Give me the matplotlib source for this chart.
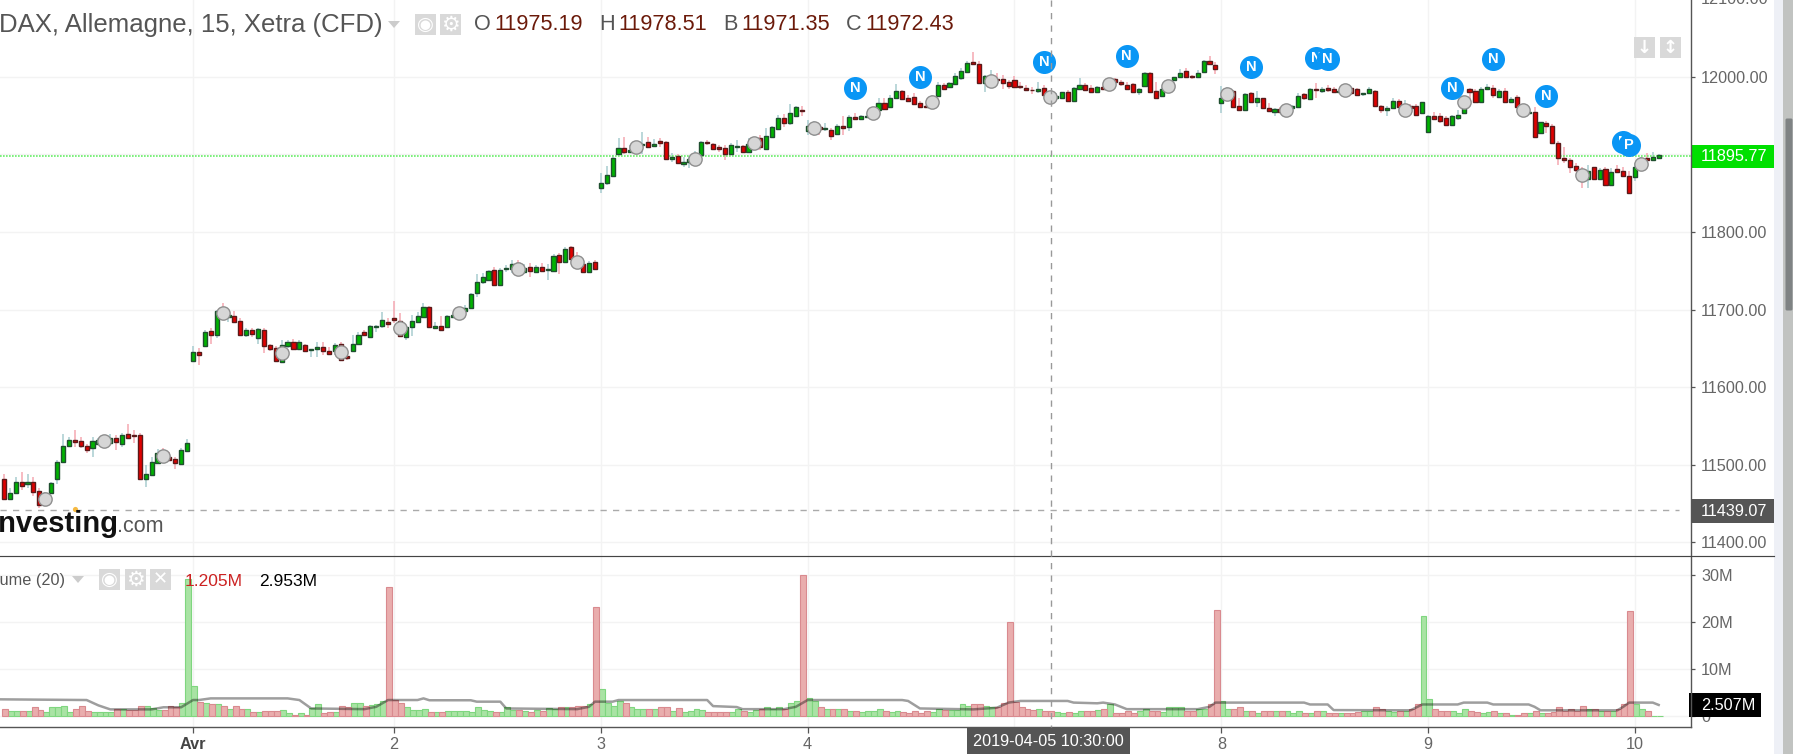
import matplotlib
matplotlib.use('Agg')
import matplotlib.pyplot as plt
from matplotlib.patches import Rectangle, FancyBboxPatch
import numpy as np

plt.rcParams['font.family'] = ['Liberation Sans', 'DejaVu Sans']

# 15 minute candles
opens = [
    11482, 11456, 11464, 11478, 11475.5, 11478, 11466, 11461, 11464, 11481, 11504, 11523.5, 11532, 11530, 11524, 11521.5,
    11527, 11530, 11528, 11535, 11527, 11540, 11538, 11538, 11481, 11487, 11502, 11517, 11510, 11507, 11500.5, 11518,
    # Avr
    11634, 11645, 11653.4, 11672, 11667, 11699, 11690, 11691, 11685, 11667, 11673.6, 11663, 11674, 11654, 11650, 11632, 11652.5,
    11658.5, 11649, 11654, 11647.4, 11649.5, 11652, 11646.5, 11647, 11656, 11640, 11646, 11655.5, 11671, 11664, 11678, 11679, 11683.5,
    # 2
    11689.5, 11685, 11665, 11678, 11684, 11690, 11703, 11676, 11679, 11677, 11690, 11691, 11698.5, 11701.5, 11721, 11735, 11738, 11751,
    11731, 11752.2, 11751.8, 11760, 11748, 11755.2, 11748.7, 11754.3, 11750.5, 11750, 11770.2, 11761.6, 11780.5, 11768, 11758.6, 11747.9, 11760.8,
    # 3
    11857, 11862.6, 11872.5, 11901, 11908.6, 11903.4, 11903.4, 11911.6, 11916.3, 11910.7, 11917.6, 11916, 11893.5, 11898, 11887.5, 11889.6, 11888.4, 11899.5,
    11916, 11913.7, 11909, 11908, 11901, 11909.4, 11910.3, 11902.5, 11909.8, 11920.6, 11907.3, 11922.7, 11932.2, 11947.2, 11939.9, 11949.8, 11956.7,
    # 4
    11930, 11930, 11934.8, 11932.2, 11931.3, 11926, 11937, 11935.6, 11948.5, 11946, 11947.6, 11947.6, 11957, 11966.5, 11961.4, 11972, 11981, 11972,
    11974.3, 11965.7, 11962.3, 11961.4, 11975, 11989.3, 11986.3, 11990.6, 11998, 12005.6, 12018.5, 12016.4, 11992.3, 11991.5, 11996.6, 11997, 11993.6,
    # 5
    11995.3, 11988, 11986, 11983.3, 11981.2, 11986, 11976.4, 11973, 11973, 11979.9, 11968.7, 11984.2, 11989.3, 11986, 11980.7, 11987.2, 11985, 11997,
    11993.6, 11989.3, 11990.2, 11980.7, 11988, 12005.2, 11982, 11975, 11982.9, 11995.8, 12000, 12007, 12000.9, 12000, 12006, 12020.7, 12014.7,
    # 8
    11965.7, 11972, 11981.6, 11962.3, 11957.1, 11978.6, 11967, 11972.1, 11960, 11955, 11958, 11952.8, 11959.2, 11961.4, 11977.7, 11971.3, 11983.7, 11982,
    11985.9, 11983.7, 11980.7, 11986.3, 11985, 11983.7, 11977.3, 11978.6, 11981.6, 11962.3, 11957.1, 11959.2, 11968.7, 11952.8, 11962.3, 11962.3, 11953.7,
    # 9
    11928.3, 11949, 11949, 11947.2, 11937.8, 11947.2, 11952.8, 11983.7, 11981.6, 11967, 11984.6, 11985.9, 11974.3, 11981.6, 11967, 11974.3, 11961.4, 11953.7,
    11955, 11927, 11940.8, 11936.9, 11914, 11895.2, 11892.7, 11885.3, 11879.8, 11868.2, 11883.2, 11868.2, 11881.5, 11860.4, 11881, 11878.9, 11872,
    # 10
    11870.3, 11883.2, 11894.8, 11892.7, 11895.7,
]
highs = [
    11488, 11470, 11484, 11490, 11488, 11484, 11470, 11465, 11478, 11506, 11540, 11536, 11545, 11536, 11527, 11536,
    11534, 11536, 11540, 11538, 11541, 11553, 11545, 11541, 11500, 11510, 11520, 11521, 11517, 11510, 11521, 11533,
    11653, 11650, 11673.6, 11676, 11699.4, 11709, 11697, 11698.5, 11689, 11676, 11675.7, 11676, 11676, 11656, 11653, 11661, 11661,
    11661.6, 11660.7, 11656, 11648.7, 11658.5, 11658.5, 11652, 11657, 11658.5, 11642, 11667, 11671, 11674, 11680, 11680, 11697, 11689,
    11711, 11695, 11680, 11693, 11697, 11709, 11704.5, 11684, 11691, 11693, 11695, 11701.5, 11706, 11721, 11746, 11747, 11751, 11755,
    11754, 11757.3, 11763.4, 11763.8, 11758, 11759.5, 11757.3, 11759.5, 11758.2, 11771.5, 11772.4, 11780, 11781.8, 11774.5, 11761.6, 11762.5, 11763.4,
    11875.5, 11885, 11899, 11920.6, 11922.7, 11912, 11916.3, 11929, 11922, 11919.3, 11920.6, 11917, 11902, 11901, 11897, 11898, 11904.7, 11917.6,
    11918.4, 11914, 11912, 11912, 11914, 11918.4, 11912, 11920.6, 11920.6, 11925, 11933.5, 11936.5, 11950.6, 11951.5, 11964.4, 11962.3, 11962.3,
    11944, 11943, 11937.8, 11940, 11933.5, 11938.6, 11949.4, 11950.6, 11952.8, 11950.6, 11953.7, 11960.5, 11972, 11972, 11976.4, 11990, 11983, 11976.4,
    11978.6, 11969, 11963.5, 11976.4, 11993.6, 11992.3, 11993.6, 12004.4, 12011, 12020.7, 12032.3, 12020.7, 12002.2, 12008.6, 12004.4, 12002, 11995.8,
    12000.9, 11993.6, 11989.3, 11986.3, 11993.6, 11989.3, 11980.7, 11978.6, 11980.7, 11982.9, 11987.2, 11998, 11991.5, 11989.3, 11988.5, 11988, 11998, 11998.8,
    11995.8, 11993.6, 11992.3, 11985, 12006.5, 12006.5, 11993.6, 11987.2, 11995.8, 11999.2, 12009.5, 12010.8, 12002.2, 12008.6, 12021.5, 12026.7, 12019.4,
    11988, 11986.3, 11982.9, 11972, 11978.6, 11980.7, 11982, 11972.1, 11965.7, 11959.2, 11961.4, 11963.5, 11963.5, 11979.4, 11978.6, 11985, 11992.3, 11986.3,
    11989.3, 11986.3, 11982.9, 11987.2, 11987.2, 11985, 11979.4, 11987.2, 11982.9, 11963.5, 11962.3, 11973, 11970.8, 11970, 11964.8, 11964.8, 11967.8,
    11950.6, 11955, 11952.8, 11949.4, 11950.6, 11957.1, 11974.3, 11985, 11983.7, 11987.2, 11990.6, 11989.3, 11983.7, 11985, 11974.3, 11976.4, 11963.5, 11957.1,
    11960.5, 11942, 11943.3, 11938.6, 11917.6, 11909, 11894.8, 11888.4, 11884, 11886, 11884, 11882, 11883.2, 11882, 11886.2, 11883.2, 11878.9,
    11888.4, 11897, 11901.2, 11902.5, 11900,
]
lows = [
    11456, 11454, 11463, 11467, 11469.5, 11460, 11444, 11452, 11463, 11475, 11504, 11523, 11523, 11522, 11515, 11509.5,
    11526, 11525, 11527, 11519, 11523, 11534, 11527.5, 11482, 11471, 11486, 11502, 11506, 11506, 11494, 11500.5, 11517,
    11633, 11628, 11653, 11656, 11663, 11689, 11683.5, 11682, 11666, 11664, 11664, 11656, 11643.5, 11646, 11633, 11631.5, 11651,
    11649, 11648, 11646.5, 11639, 11639, 11641, 11641, 11641, 11635, 11635, 11646, 11654, 11666, 11664, 11671, 11676, 11676,
    11682, 11666, 11661, 11666, 11682, 11689, 11678, 11675, 11674, 11676, 11689, 11690, 11697, 11700.6, 11716.5, 11733, 11737, 11730,
    11730, 11748.7, 11746.6, 11749, 11746, 11742.3, 11747.5, 11748.7, 11738, 11749.6, 11745.3, 11759.5, 11765, 11755, 11747.9, 11747.5, 11750.9,
    11850.6, 11860.4, 11872, 11900.4, 11900.4, 11902, 11902, 11901, 11907.7, 11909.8, 11909, 11893.5, 11890.5, 11888.4, 11883, 11882, 11886, 11899,
    11912, 11905.6, 11903.4, 11892.7, 11900.4, 11903.4, 11902, 11902, 11907.7, 11905.6, 11906.8, 11921.9, 11931.3, 11935.6, 11937.8, 11948.5, 11949.4,
    11925, 11923.6, 11925, 11930.5, 11918.4, 11925, 11925, 11930, 11944, 11944, 11946.4, 11945, 11955, 11958, 11960.5, 11971, 11971, 11967.8,
    11963.5, 11959.7, 11960, 11960, 11974.3, 11982.9, 11985.4, 11989.3, 11996, 12005, 12015, 11991.5, 11980, 11986.3, 11989.3, 11983.7, 11983.7,
    11985, 11983.7, 11981.6, 11977.7, 11978.6, 11975.6, 11967.8, 11971.3, 11971.3, 11967.8, 11968.3, 11982.9, 11981.6, 11978.6, 11979.9, 11982.9, 11982.9, 11991.5,
    11988, 11982.9, 11979.4, 11976.4, 11987.2, 11979.4, 11972, 11974.3, 11980.7, 11994.9, 11998.8, 11997.9, 11997, 11999.2, 12005.2, 12015, 12003.5,
    11953.7, 11970, 11960, 11956.2, 11956.7, 11965.7, 11961.4, 11958, 11955, 11949.4, 11952.8, 11950.6, 11958, 11960.5, 11970, 11970.8, 11972, 11979.4,
    11980.7, 11979.9, 11979.4, 11977.3, 11976.4, 11976.4, 11975.6, 11977.7, 11962.3, 11952.8, 11949.4, 11958.4, 11959.7, 11950.6, 11958, 11949.8, 11952.8,
    11927, 11944.2, 11940.8, 11936.9, 11936.9, 11944.2, 11951.5, 11967.8, 11965.7, 11966.5, 11982.9, 11972.1, 11973, 11965.7, 11966.5, 11960, 11952, 11952,
    11921.9, 11926.2, 11927, 11914, 11886.2, 11889.2, 11875.5, 11877.6, 11856, 11856, 11866.9, 11866.9, 11859.1, 11859.6, 11875.5, 11870.3, 11849.7,
    11866, 11879.8, 11890.5, 11891.8, 11894.8,
]
closes = [
    11456, 11464, 11478, 11473, 11478, 11465, 11448, 11464, 11476, 11503, 11524.5, 11532, 11529, 11524, 11519, 11530,
    11532, 11534, 11535, 11529, 11538, 11535, 11537, 11482, 11488, 11503, 11515, 11508, 11506, 11502, 11518.5, 11528,
    11645, 11641, 11671.4, 11667, 11698.5, 11691, 11693, 11684, 11667, 11674, 11669, 11675, 11653, 11649, 11634, 11654, 11658,
    11649.5, 11658.5, 11647, 11648.7, 11652, 11646, 11643, 11654, 11635, 11637, 11655.5, 11667, 11667, 11679, 11679, 11687, 11681,
    11686.5, 11666, 11678, 11685, 11691, 11703, 11678, 11679, 11674, 11691, 11693, 11699, 11702, 11720, 11735, 11741.5, 11749, 11731,
    11751, 11753.9, 11759, 11752, 11754, 11750, 11755.2, 11750, 11752.2, 11768.5, 11761.6, 11778, 11765, 11757, 11747.9, 11760.3, 11752.2,
    11863.4, 11873.3, 11895, 11908.6, 11903.4, 11905.6, 11914, 11913.3, 11909, 11913.7, 11915, 11893.5, 11897, 11889, 11890.5, 11894.4, 11900.4, 11916,
    11914, 11906.8, 11907.3, 11901, 11912, 11910.3, 11903, 11913.7, 11918.4, 11909.8, 11923.6, 11934.8, 11947.2, 11939.9, 11952.8, 11960.5, 11955.8,
    11936.5, 11937.8, 11932.2, 11933.5, 11924, 11937, 11934.3, 11948.5, 11946, 11949, 11949.8, 11957, 11966.5, 11958.8, 11972, 11981, 11971.3, 11969,
    11964.8, 11960.5, 11961.4, 11974.3, 11989.3, 11983.7, 11991.5, 12001, 12007.4, 12018, 12016, 11992.3, 12000.9, 12000, 11995.8, 11992.3, 11988,
    11986.3, 11986.3, 11982.9, 11982.9, 11983.7, 11976.4, 11970, 11975.6, 11979.9, 11968.7, 11985.4, 11989.3, 11982.9, 11979.9, 11987.2, 11984.6, 11993.6, 11993.2,
    11990.2, 11984.2, 11980.3, 11983.7, 12005.2, 11980.3, 11972.6, 11983.7, 11993.6, 11999.2, 12005.2, 12000, 12000, 12005.2, 12020.7, 12016, 12009.5,
    11972, 11982.9, 11961.4, 11957.1, 11977.7, 11967, 11972.1, 11959.2, 11955.8, 11958.4, 11954, 11961.4, 11962.3, 11975.6, 11972.1, 11983.7, 11982.4, 11983.7,
    11982.9, 11980.7, 11982, 11978.6, 11978.6, 11976.9, 11978.6, 11983.7, 11962.7, 11957.1, 11960.1, 11968.7, 11960.5, 11963.5, 11959.2, 11950.6, 11967,
    11949, 11945.9, 11942.5, 11937.8, 11949, 11950.2, 11972.1, 11980.7, 11967, 11983.7, 11986.3, 11976.4, 11981.6, 11967, 11971.7, 11961.4, 11955, 11954.5,
    11922.7, 11941.2, 11936.5, 11915, 11895.7, 11892.7, 11883.6, 11879.8, 11869, 11879, 11868.2, 11879.8, 11860.4, 11876.8, 11877.6, 11872, 11850.6,
    11883.2, 11893.5, 11892.7, 11897, 11898.7,
]

# volume in millions, same bars
volumes = [
    1.5, 1.1, 1.1, 1.1, 1.1, 1.8, 1.3, 0.7, 1.8, 1.8, 2.1, 0.7, 1.4, 2.1, 0.9, 0.8,
    0.8, 0.8, 0.8, 1.4, 1.4, 1.2, 1.2, 2.1, 2.1, 1.6, 1.2, 1.2, 2.1, 1.9, 2.8, 29.2,
    6.3, 3.0, 2.7, 2.4, 2.4, 2.0, 1.5, 2.1, 1.4, 1.4, 0.8, 0.8, 1.1, 0.9, 1.1, 1.2, 0.6,
    0.2, 0.5, 0.1, 1.7, 2.4, 0.6, 0.8, 0.8, 2.1, 1.8, 2.8, 2.8, 2.1, 2.2, 2.4, 3.1, 27.4,
    3.3, 2.8, 1.8, 1.2, 1.2, 1.5, 0.8, 0.8, 0.8, 1.1, 0.9, 1.1, 1.1, 0.8, 1.8, 1.2, 1.1, 0.8,
    0.8, 1.8, 1.2, 1.3, 0.9, 0.8, 1.2, 0.9, 1.7, 1.5, 1.8, 1.8, 1.8, 2.0, 2.1, 2.5, 23.3,
    5.6, 2.8, 2.1, 3.1, 2.8, 1.8, 1.5, 1.5, 1.5, 1.5, 1.9, 1.9, 1.1, 1.6, 0.8, 1.1, 1.5, 1.2,
    0.8, 0.8, 0.8, 0.8, 0.8, 1.5, 1.1, 0.8, 1.2, 1.5, 1.8, 1.5, 1.8, 1.5, 2.8, 3.1, 30.0,
    3.8, 3.1, 1.8, 1.4, 1.4, 1.4, 1.4, 1.1, 1.1, 0.8, 1.1, 1.1, 1.4, 0.9, 0.8, 1.1, 0.8, 0.5,
    0.9, 0.6, 1.1, 0.8, 1.4, 1.2, 1.2, 1.2, 2.5, 2.1, 2.5, 2.5, 2.1, 1.8, 1.8, 2.8, 20.1,
    3.0, 1.8, 1.5, 1.2, 1.5, 1.1, 0.9, 0.8, 0.5, 0.8, 0.5, 1.1, 0.9, 0.9, 1.2, 1.5, 2.5, 0.5,
    0.5, 1.1, 0.5, 1.1, 1.4, 1.1, 1.1, 0.8, 1.8, 1.8, 1.8, 1.1, 1.1, 1.5, 1.5, 2.4, 22.6,
    3.1, 1.5, 1.4, 1.8, 1.1, 1.1, 0.5, 0.9, 0.9, 0.9, 0.9, 0.9, 0.5, 0.9, 0.5, 0.5, 0.9, 0.9,
    0.5, 0.5, 0.5, 0.5, 0.5, 0.8, 1.1, 1.1, 1.8, 1.5, 1.1, 0.8, 1.1, 1.1, 1.5, 2.5, 21.3,
    3.5, 1.5, 0.9, 1.1, 0.9, 0.5, 1.5, 1.1, 0.8, 0.5, 0.8, 1.1, 0.5, 0.5, 0.15, 0.15, 0.5, 0.5,
    1.1, 0.5, 0.5, 0.8, 1.8, 0.9, 1.4, 0.9, 2.1, 1.5, 1.5, 0.9, 1.1, 1.1, 1.5, 2.5, 22.3,
    2.5, 1.5, 0.9, 0, 0,
]

# grey volume average, corners of the line
ma_bars = [-1, 14, 16, 18, 25, 27, 30, 32, 33, 35, 48, 50, 52, 61, 63, 65, 70, 71, 72, 79, 80, 84, 85, 97, 99, 100,
           103, 104, 119, 120, 124, 125, 132, 134, 136, 152, 153, 155, 164, 168, 170, 172, 180, 181, 185, 186, 188, 190,
           202, 204, 205, 220, 221, 224, 225, 238, 240, 246, 247, 251, 252, 258, 259, 260, 273, 274, 275, 279, 280]
ma_values = [3.5, 3.35, 2.2, 1.35, 1.35, 1.8, 1.8, 3.35, 3.35, 3.7, 3.7, 3.35, 1.55, 1.4, 1.9, 3.35, 3.35, 3.7, 3.3, 3.3, 3.0, 3.0, 1.55, 1.4, 1.9, 3.0,
             3.0, 3.35, 3.35, 2.05, 1.85, 1.4, 1.4, 1.9, 3.35, 3.35, 3.15, 1.55, 1.35, 1.7, 2.8, 3.15, 3.15, 2.8, 2.65, 2.8, 2.4, 1.4,
             1.4, 1.9, 2.8, 2.8, 2.4, 2.4, 1.2, 1.15, 2.4, 2.4, 2.8, 2.8, 2.4, 2.4, 1.9, 1.15, 1.15, 1.9, 2.8, 2.8, 2.3]

# grey event dots
event_bars = [7, 17, 27, 37, 47, 57, 67, 77, 87, 97, 107, 117, 127, 137, 147, 157, 167, 177, 187, 197, 207, 217, 227, 237, 247, 257, 267, 277]
event_prices = [11455.4, 11531, 11511.2, 11695.5, 11643.5, 11644.8, 11675.7, 11695.9, 11751.8, 11761.6, 11909, 11893.5, 11914.6, 11933.9,
                11952.8, 11967, 11994, 11974.3, 11990.2, 11988, 11977.3, 11957.1, 11982.4, 11957.1, 11967, 11957.1, 11873.8, 11887.5]

# blue news flags
news_bars = [144, 155, 176, 190, 211, 222, 224, 245, 252, 261, 274, 275]
news_prices = [11985.4, 11999.2, 12018.5, 12026.3, 12013, 12024, 12022.4, 11985.4, 12022.4, 11975.6, 11915.4, 11912]
news_letters = ['N', 'N', 'N', 'N', 'N', 'N', 'N', 'N', 'N', 'N', 'N', 'P']

day_bars = [32, 66, 101, 136, 171, 206, 241, 276]
day_grid_labels = ['Avr', '2', '3', '4', '', '8', '9', '10']
price_ticks = [11400, 11500, 11600, 11700, 11800, 11900, 12000]
volume_ticks = [0, 10, 20, 30]
volume_tick_labels = ['0', '10M', '20M', '30M']
legend_ohlc = [('O', '11975.19', 474, 494), ('H', '11978.51', 599, 618), ('B', '11971.35', 723, 741), ('C', '11972.43', 846, 865)]

W, H = 1793, 754
TEXT = '#666666'
LINE = '#555555'


def px_axes(fig, left, top, right, bottom):
    return fig.add_axes([left / W, 1 - bottom / H, (right - left) / W, (bottom - top) / H])


def button(ov, x, y, glyph, w=21, h=21, size=13):
    ov.add_patch(Rectangle((x, y), w, h, color='#d9d9d9', lw=0))
    ov.text(x + w / 2, y + h / 2, glyph, color='white', fontsize=size, ha='center', va='center',
            family='DejaVu Sans', fontweight='bold')


fig = plt.figure(figsize=(W / 100, H / 100), dpi=100)
bars = np.arange(len(opens))
o, h, l, c = map(np.array, (opens, highs, lows, closes))
up = c >= o
xlim = ((0 - 193) / 5.91 + 32, (1690.7 - 193) / 5.91 + 32)

# price pane
ax = px_axes(fig, 0, 0, 1690.7, 556.3)
ax.set_xlim(xlim)
ax.set_ylim(12000 - (556.3 - 76.7) / 0.776, 12000 + 76.7 / 0.776)
ax.set_yticks(price_ticks)
ax.set_yticklabels([f'{t:.2f}' for t in price_ticks])
ax.yaxis.tick_right()
ax.tick_params(axis='y', length=3, width=0.9, color=LINE, labelcolor=TEXT, labelsize=11.7, pad=4.5)
ax.set_xticks(day_bars)
ax.tick_params(axis='x', length=0, labelbottom=False)
ax.grid(True, color='#f3f3f3', lw=1)
ax.set_axisbelow(True)
for s in ax.spines.values():
    s.set_visible(False)

ax.vlines(bars[up], l[up], h[up], color='#a8cdd0', lw=1.1, zorder=2)
ax.vlines(bars[~up], l[~up], h[~up], color='#f5a8b2', lw=1.1, zorder=2)
ax.bar(bars[up], (c - o)[up], bottom=o[up], width=0.7, color='#00b300', edgecolor='#1f4f2f', lw=1, zorder=3)
ax.bar(bars[~up], (o - c)[~up], bottom=c[~up], width=0.7, color='#e00000', edgecolor='#5a1a1a', lw=1, zorder=3)
ax.scatter(event_bars, event_prices, s=92, color='#d6d6d6', edgecolor='#8f8f8f', lw=1, zorder=4)
# later flags sit on top of earlier ones, letters included
for i, (b, p, letter) in enumerate(zip(news_bars, news_prices, news_letters)):
    ax.scatter([b], [p], s=275, color='#0a96f5', lw=0, zorder=5 + i * 0.1)
    ax.text(b, p, letter, color='white', fontsize=10.5, fontweight='bold', ha='center', va='center', zorder=5.05 + i * 0.1)
ax.axhline(11897.8, color='#66ee66', lw=1.2, ls=(0, (1, 0.8)), zorder=2.5)
ax.plot([xlim[0], 283.5], [11441, 11441], color='#aaaaaa', lw=1, ls=(0, (4.5, 4.5)), zorder=1.5)

# volume pane
vx = px_axes(fig, 0, 556.3, 1690.7, 727)
vx.set_xlim(xlim)
vx.set_ylim(-(727 - 715.7) / 4.68, (715.7 - 556.3) / 4.68)
vol = np.array(volumes)
vx.bar(bars[up] + 0.2, vol[up], width=1, color='#a9e3a4', edgecolor='#7fd67f', lw=0.8, zorder=2)
vx.bar(bars[~up] + 0.2, vol[~up], width=1, color='#e9adad', edgecolor='#d98a8f', lw=0.8, zorder=2)
vx.plot(ma_bars, ma_values, color='black', alpha=0.38, lw=1.8, zorder=3)
vx.set_yticks(volume_ticks)
vx.set_yticklabels(volume_tick_labels)
vx.yaxis.tick_right()
vx.tick_params(axis='y', length=3, width=0.9, color=LINE, labelcolor=TEXT, labelsize=11.7, pad=4.5)
vx.set_xticks(day_bars)
vx.set_xticklabels(day_grid_labels)
vx.tick_params(axis='x', length=4, width=0.9, color=LINE, labelcolor=TEXT, labelsize=11.7, pad=3)
vx.get_xticklabels()[0].set_fontweight('bold')
vx.get_xticklabels()[0].set_color('#444444')
vx.grid(True, color='#f3f3f3', lw=1)
vx.set_axisbelow(True)
for s in vx.spines.values():
    s.set_visible(False)

# chrome drawn in picture pixels on top
ov = fig.add_axes([0, 0, 1, 1])
ov.set_xlim(0, W)
ov.set_ylim(H, 0)
ov.axis('off')
ov.patch.set_alpha(0)

ov.plot([1690.7, 1690.7], [0, 727], color=LINE, lw=1)
ov.plot([0, 1774], [556.3, 556.3], color='#444444', lw=0.85)
ov.plot([0, 1690.7], [727, 727], color=LINE, lw=1)
ov.plot([1050.7, 1050.7], [0, 727], color='#999999', lw=1, ls=(0, (4.5, 4.5)))

ov.add_patch(Rectangle((1774, 0), 9, H, color='#eef0f6', lw=0))
ov.add_patch(Rectangle((1783, 0), 10, H, color='#c1c3c1', lw=0))
ov.add_patch(FancyBboxPatch((1787, 120), 4, 189, boxstyle='round,pad=1.5', color='#7f8384', lw=0))

ov.text(1701, -1, '12100.00', color=TEXT, fontsize=11.7, va='center')

# header text
ov.text(-1, 25, 'DAX, Allemagne, 15, Xetra (CFD)', color='#555555', fontsize=18.5, va='center')
ov.fill([388, 400, 394], [21, 21, 28], color='#cccccc', lw=0)
button(ov, 415, 14, '◉', size=14)
button(ov, 440, 14, '⚙', size=15)
for label, value, lx, vx_px in legend_ohlc:
    ov.text(lx, 25, label, color='#555555', fontsize=15.6, va='center')
    ov.text(vx_px, 25, value, color='#6b1a0a', fontsize=15.6, va='center')

button(ov, 1634, 37, '↓')
button(ov, 1660, 37, '↕')

# volume legend
ov.text(65, 581, 'Volume (20)', color='#555555', fontsize=11.7, ha='right', va='center')
ov.fill([72, 84, 78], [576, 576, 583], color='#cccccc', lw=0)
button(ov, 99, 569, '◉', size=14)
button(ov, 125, 569, '⚙', size=15)
button(ov, 150, 569, '✕')
ov.text(184.5, 581, '1.205M', color='#cc2222', fontsize=12.5, va='center')
ov.text(259, 581, '2.953M', color='black', fontsize=12.5, va='center')

# watermark
ov.text(-10, 524, 'Investing', color='#111111', fontsize=21, fontweight='bold', va='center')
ov.text(117, 526, '.com', color='#555555', fontsize=15.5, va='center')
ov.scatter([75], [509], s=14, color='#f5b942', lw=0)

# value boxes on the right axis
ov.add_patch(Rectangle((1691, 145), 83, 23, color='#00e000', lw=0))
ov.text(1701, 156.5, '11895.77', color='white', fontsize=11.7, va='center')
ov.add_patch(Rectangle((1691, 499), 83, 24, color='#555555', lw=0))
ov.text(1701, 511, '11439.07', color='white', fontsize=11.7, va='center')
ov.add_patch(Rectangle((1689, 693), 72, 24, color='black', lw=0))
ov.text(1701, 705, '2.507M', color='white', fontsize=11.7, va='center')
ov.add_patch(Rectangle((967, 727), 163, 27, color='#555555', lw=0))
ov.text(1048.5, 741, '2019-04-05 10:30:00', color='white', fontsize=11.7, ha='center', va='center')

ov.set_xlim(0, W)
ov.set_ylim(H, 0)
fig.savefig('out.png', dpi=100)
